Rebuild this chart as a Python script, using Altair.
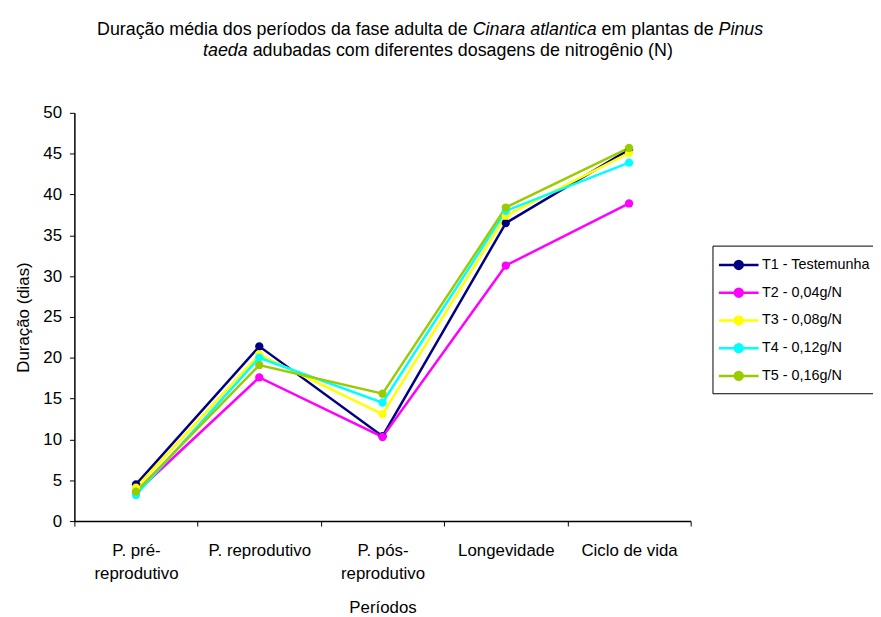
import altair as alt
import pandas as pd

# ---- data ----
categorias = ["P. pré-reprodutivo", "P. reprodutivo", "P. pós-reprodutivo",
              "Longevidade", "Ciclo de vida"]
tratamentos = ["T1 - Testemunha", "T2 - 0,04g/N", "T3 - 0,08g/N",
               "T4 - 0,12g/N", "T5 - 0,16g/N"]
t1 = [4.5, 21.4, 10.4, 36.5, 45.5]
t2 = [3.5, 17.6, 10.3, 31.3, 38.9]
t3 = [4.1, 20.4, 13.1, 37.4, 45.1]
t4 = [3.2, 20.0, 14.5, 38.0, 43.9]
t5 = [3.6, 19.1, 15.6, 38.4, 45.7]
cores = ["#000080", "#FF00FF", "#FFFF00", "#00FFFF", "#99CC00"]
y_ticks = [0, 5, 10, 15, 20, 25, 30, 35, 40, 45, 50]

rows = []
for i, (nome, vals) in enumerate(zip(tratamentos, [t1, t2, t3, t4, t5])):
    for c, v in zip(categorias, vals):
        rows.append({"Período": c, "Tratamento": nome, "Duração": v, "ordem": i})
df = pd.DataFrame(rows)

FONT = "Liberation Sans"
PW, PH = 622, 412

# ---- title with mixed italic, laid out with Arial metrics ----
W = {' ': 278, '(': 333, ')': 333, ',': 278, '-': 333, '.': 278, '/': 278,
     'A': 667, 'C': 722, 'D': 722, 'N': 722, 'P': 667, 'T': 611,
     'a': 556, 'b': 556, 'c': 500, 'd': 556, 'e': 556, 'f': 278, 'g': 556,
     'h': 556, 'i': 222, 'l': 222, 'm': 833, 'n': 556, 'o': 556, 'p': 556,
     'r': 333, 's': 500, 't': 278, 'u': 556, 'v': 500,
     'ç': 500, 'ã': 556, 'é': 556, 'í': 278, 'ê': 556, 'ó': 556}
TFS = 18


def tw(s):
    return sum(W.get(ch, 556) for ch in s) * TFS / 1000.0


linhas = [
    ([("Duração média dos períodos da fase adulta de", False),
      ("Cinara atlantica", True), ("em plantas de", False), ("Pinus", True)],
     434 - 75, 32 - 111),
    ([("taeda", True),
      ("adubadas com diferentes dosagens de nitrogênio (N)", False)],
     442 - 75, 54 - 111),
]
trows = []
for segs, cx, by in linhas:
    total = sum(tw(s) for s, _ in segs) + tw(" ") * (len(segs) - 1)
    x = cx - total / 2
    for s, it in segs:
        trows.append({"txt": s, "x": x, "y": by, "it": it})
        x += tw(s) + tw(" ")
tdf = pd.DataFrame(trows)

# ---- main chart ----
x_enc = alt.X(
    "Período:N", sort=categorias, bandPosition=0.5,
    scale=alt.Scale(type="band", paddingInner=0, paddingOuter=0),
    axis=alt.Axis(
        title="Períodos", labelAngle=0, tickBand="extent",
        labelExpr="split(replace(datum.label, '-', '-|'), '|')",
        labelLineHeight=23, labelPadding=17, tickSize=5, titlePadding=18,
        labelFontSize=17, titleFontSize=17,
    ),
)
y_enc = alt.Y(
    "Duração:Q", scale=alt.Scale(domain=[0, 50], nice=False),
    axis=alt.Axis(
        title="Duração (dias)", values=y_ticks, tickSize=5, labelPadding=8,
        grid=False, labelFontSize=17, titleFontSize=17,
        titleX=-51, titleY=PH / 2, titleBaseline="middle",
    ),
)
sym = "M-2,0H2M0.4,0A0.4,0.4,0,1,1,-0.4,0A0.4,0.4,0,1,1,0.4,0Z"
color_enc = alt.Color(
    "Tratamento:N", sort=tratamentos,
    scale=alt.Scale(domain=tratamentos, range=cores),
    legend=alt.Legend(
        title=None, orient="none", legendX=644, legendY=134,
        symbolType=sym, symbolSize=400, symbolStrokeWidth=2.5,
        symbolOffset=7, labelOffset=12, padding=8, rowPadding=7,
        strokeColor="black", labelFontSize=14.5, labelColor="black",
        labelFont=FONT, cornerRadius=0,
    ),
)

base = alt.Chart(df)
linhas_mk = base.mark_line(strokeWidth=2.5).encode(
    x=x_enc, y=y_enc, color=color_enc, order="ordem:Q")
pontos = base.mark_point(filled=True, size=70, opacity=1).encode(
    x=x_enc, y=y_enc, color=color_enc, order="ordem:Q")

tit_n = alt.Chart(tdf).transform_filter("!datum.it").mark_text(
    align="left", baseline="alphabetic", font=FONT, fontSize=TFS, color="black"
).encode(x=alt.X("x:Q", scale=None, axis=None),
         y=alt.Y("y:Q", scale=None, axis=None), text="txt:N")
tit_i = alt.Chart(tdf).transform_filter("datum.it").mark_text(
    align="left", baseline="alphabetic", font=FONT, fontSize=TFS, color="black",
    fontStyle="italic"
).encode(x=alt.X("x:Q", scale=None, axis=None),
         y=alt.Y("y:Q", scale=None, axis=None), text="txt:N")

chart = alt.layer(linhas_mk, pontos, tit_n, tit_i).properties(
    width=PW, height=PH,
    background="white",
    autosize=alt.AutoSizeParams(type="none"),
    padding={"left": 67, "top": 103, "right": 184, "bottom": 94},
).configure_view(stroke=None).configure_axis(
    labelFont=FONT, titleFont=FONT, labelColor="black", titleColor="black",
    domainColor="black", tickColor="black", titleFontWeight="normal",
    domainWidth=1.5, tickWidth=1,
)

chart.save("out.html", embed_options={"renderer": "svg", "actions": False})
